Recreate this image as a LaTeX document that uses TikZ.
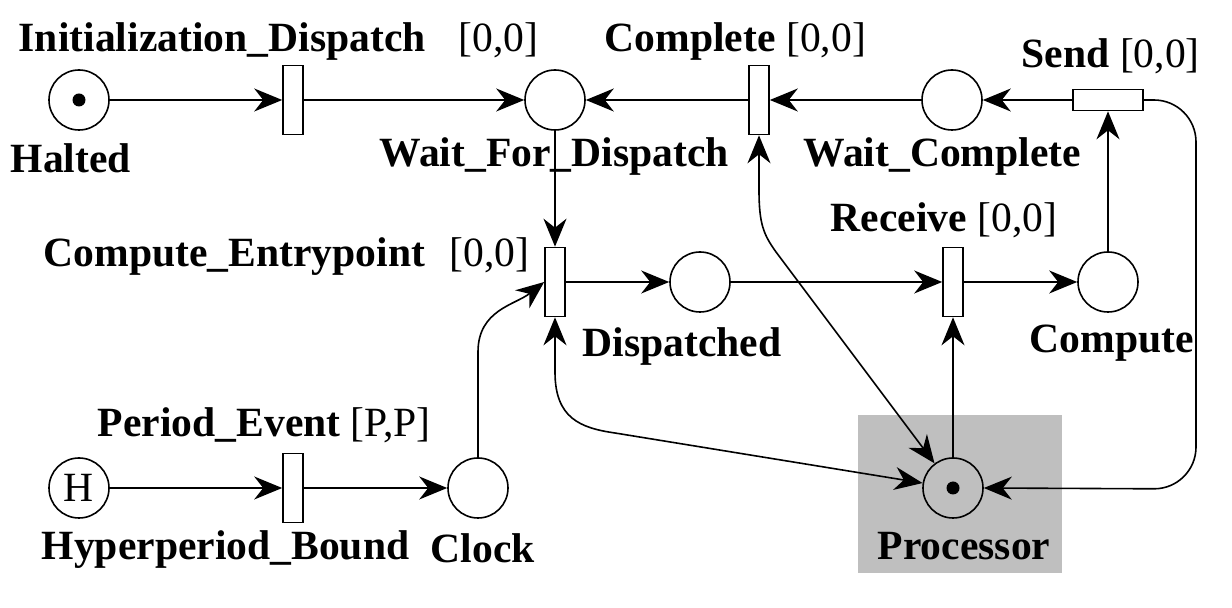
\documentclass[tikz,border=0pt]{standalone}
\usepackage{fontspec}
\setmainfont{Liberation Serif}
\usetikzlibrary{arrows.meta}
\begin{document}
\begin{tikzpicture}[x=0.5pt, y=-0.5pt, line width=0.8pt,
    font=\fontsize{20.8}{24}\selectfont\bfseries,
    >={Stealth[length=14pt, width=11.5pt, inset=4.5pt]},
    place/.style={circle, draw, minimum size=30pt, inner sep=0pt},
    trans/.style={draw, minimum width=10pt, minimum height=34.5pt, inner sep=0pt},
    token/.style={circle, fill, inner sep=0pt, minimum size=6.5pt},
    lbl/.style={anchor=base west, inner sep=0pt},
    time/.style={anchor=base west, inner sep=0pt, font=\fontsize{20.8}{24}\selectfont\mdseries}]
    \useasboundingbox (0,0) rectangle (1232,608);
    \fill[black!25] (858,415) rectangle (1062,573);
    % places
    \foreach \name/\x/\y in {halted/79/100, waitdisp/555/100, waitcomp/952/100,
        dispatched/700/282, compute/1108/282, clock/478/488, processor/953/488}{
        \node[place] (\name) at (\x,\y) {};
    }
    \node[place, font=\fontsize{20.8}{24}\selectfont\mdseries] (hyper) at (79,488) {H};
    \node[token] (haltedtok) at (halted) {};
    \node[token] (proctok) at (processor) {};
    % transitions
    \foreach \name/\x/\y in {initdisp/293/100, complete/759/100, compentry/555/282,
        receive/953/282, period/293/488}{
        \node[trans] (\name) at (\x,\y) {};
    }
    \node[trans, minimum width=35pt, minimum height=10.5pt] (send) at (1108,100) {};
    % labels
    \node[lbl] (haltedlbl) at (10,173) {Halted};
    \node[lbl] (initdisplbl) at (18,52) {Initialization\_Dispatch};
    \node[time] (initdisptime) at (458,52) {[0,0]};
    \node[lbl] (waitdisplbl) at (379,167) {Wait\_For\_Dispatch};
    \node[lbl] (completelbl) at (604,52) {Complete {\mdseries[0,0]}};
    \node[lbl] (waitcomplbl) at (803,167) {Wait\_Complete};
    \node[lbl] (sendlbl) at (1021,68) {Send {\mdseries[0,0]}};
    \node[lbl] (compentrylbl) at (43,267) {Compute\_Entrypoint};
    \node[time] (compentrytime) at (449,267) {[0,0]};
    \node[lbl] (receivelbl) at (830,232) {Receive {\mdseries[0,0]}};
    \node[lbl] (dispatchedlbl) at (582,357) {Dispatched};
    \node[lbl] (computelbl) at (1029,353) {Compute};
    \node[lbl] (processorlbl) at (877,560) {Processor};
    \node[lbl] (periodlbl) at (97,437) {Period\_Event {\mdseries[P,P]}};
    \node[lbl] (hyperlbl) at (41,560) {Hyperperiod\_Bound};
    \node[lbl] (clocklbl) at (430,563) {Clock};
    % arcs
    \draw[->] (halted) -- (initdisp);
    \draw[->] (initdisp) -- (waitdisp);
    \draw[->] (complete) -- (waitdisp);
    \draw[->] (waitcomp) -- (complete);
    \draw[->] (send) -- (waitcomp);
    \draw[->] (waitdisp) -- (compentry);
    \draw[->] (compentry) -- (dispatched);
    \draw[->] (dispatched) -- (receive);
    \draw[->] (receive) -- (compute);
    \draw[->] (compute) -- (send);
    \draw[->] (hyper) -- (period);
    \draw[->] (period) -- (clock);
    \draw[->] (processor) -- (receive);
    \draw[->, rounded corners=21pt] (send.east) -- (1196,100) -- (1196,489) -- (processor.east);
    \draw[<->] (complete.south) -- (759,190) .. controls (759,225) and (764,235) .. (776,252) -- (processor);
    \draw[<->] (compentry.south) -- (555,372) .. controls (555,418) and (580,428) .. (615,433) -- (processor);
    \draw[->] (clock) -- (478,352) .. controls (478,310) and (515,305) .. (compentry.west);
\end{tikzpicture}
\end{document}
